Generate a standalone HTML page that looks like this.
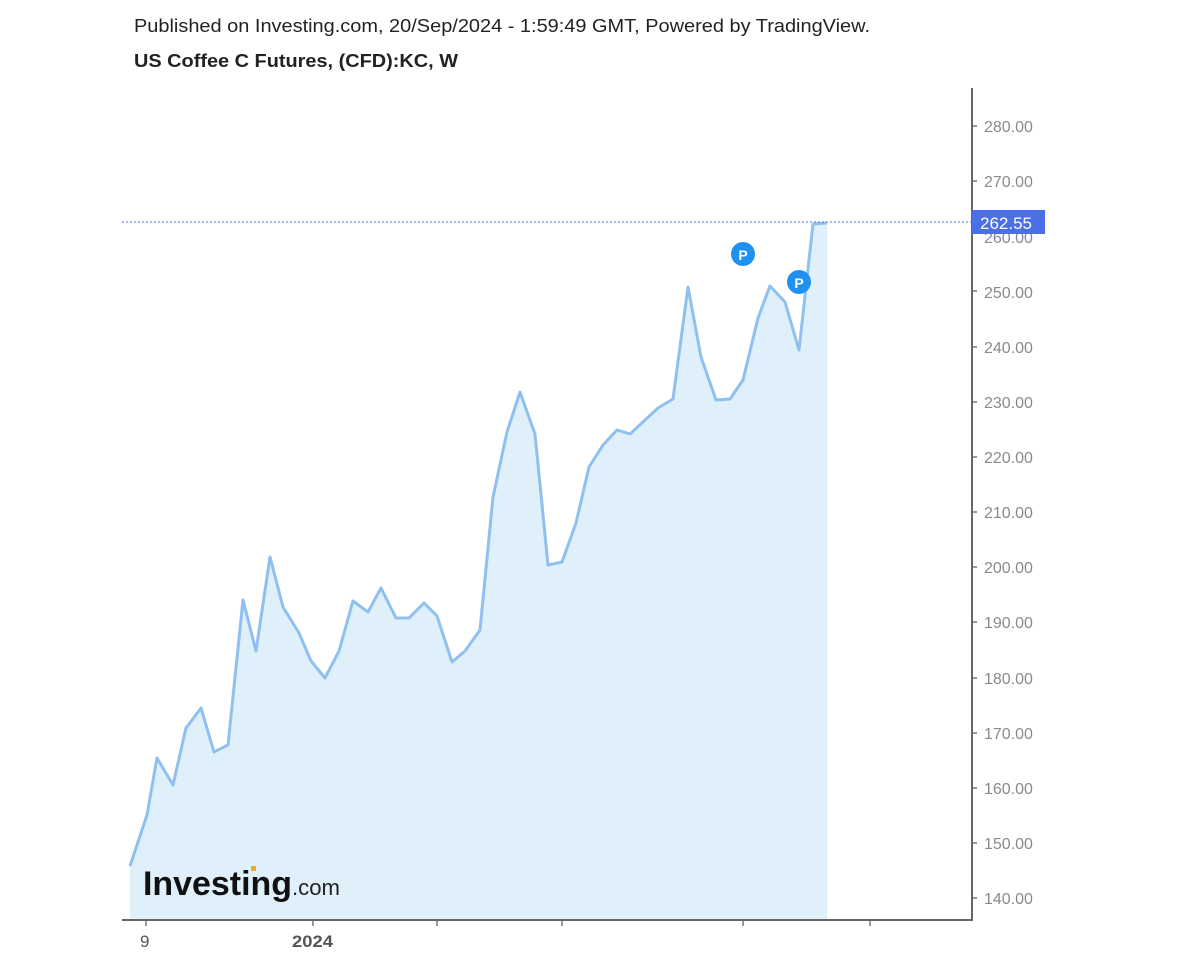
<!DOCTYPE html>
<html><head><meta charset="utf-8"><style>
body{margin:0;background:#fff;width:1200px;height:960px;overflow:hidden;font-family:"Liberation Sans",sans-serif}
</style></head><body>
<svg width="1200" height="960" xmlns="http://www.w3.org/2000/svg" font-family="Liberation Sans, sans-serif">
<text x="134" y="32" font-size="18" fill="#222" textLength="736" lengthAdjust="spacingAndGlyphs">Published on Investing.com, 20/Sep/2024 - 1:59:49 GMT, Powered by TradingView.</text>
<text x="134" y="67" font-size="18" font-weight="bold" fill="#222" textLength="324" lengthAdjust="spacingAndGlyphs">US Coffee C Futures, (CFD):KC, W</text>
<polygon fill="#e0f0fa" points="130,920 130,866 147,815 157,758 173,785 186,728 201,708 214,752 228,745 243,600 256,651 270,557 283,607 299,633 311,661 325,678 339,651 353,601 368,612 381,588 396,618 409,618 424,603 437,616 452,662 465,651 480,630 493,497 507,432 520,392 535,434 548,565 562,562 576,523 589,467 603,445 617,430 630,434 644,421 658,408 673,399 688,287 701,357 716,400 730,399 743,380 758,318 770,286 785,302 799,350 813,224 827,223 827,920"/>
<polyline fill="none" stroke="#8fc0ef" stroke-width="3" stroke-linejoin="round" points="130,866 147,815 157,758 173,785 186,728 201,708 214,752 228,745 243,600 256,651 270,557 283,607 299,633 311,661 325,678 339,651 353,601 368,612 381,588 396,618 409,618 424,603 437,616 452,662 465,651 480,630 493,497 507,432 520,392 535,434 548,565 562,562 576,523 589,467 603,445 617,430 630,434 644,421 658,408 673,399 688,287 701,357 716,400 730,399 743,380 758,318 770,286 785,302 799,350 813,224 827,223"/>
<line x1="122" y1="222" x2="972" y2="222" stroke="#4a6fe8" stroke-width="1" stroke-dasharray="2,2"/>
<g fill="#8a8a8a" font-size="16">
<text x="984" y="132">280.00</text><text x="984" y="187">270.00</text><text x="984" y="243">260.00</text>
<text x="984" y="298">250.00</text><text x="984" y="353">240.00</text><text x="984" y="408">230.00</text>
<text x="984" y="463">220.00</text><text x="984" y="518">210.00</text><text x="984" y="573">200.00</text>
<text x="984" y="628">190.00</text><text x="984" y="684">180.00</text><text x="984" y="739">170.00</text>
<text x="984" y="794">160.00</text><text x="984" y="849">150.00</text><text x="984" y="904">140.00</text>
</g>
<g stroke="#777" stroke-width="1.5">
<line x1="972" y1="126" x2="977" y2="126"/><line x1="972" y1="181" x2="977" y2="181"/><line x1="972" y1="291" x2="977" y2="291"/><line x1="972" y1="347" x2="977" y2="347"/><line x1="972" y1="402" x2="977" y2="402"/><line x1="972" y1="457" x2="977" y2="457"/><line x1="972" y1="512" x2="977" y2="512"/><line x1="972" y1="567" x2="977" y2="567"/><line x1="972" y1="622" x2="977" y2="622"/><line x1="972" y1="678" x2="977" y2="678"/><line x1="972" y1="733" x2="977" y2="733"/><line x1="972" y1="788" x2="977" y2="788"/><line x1="972" y1="843" x2="977" y2="843"/><line x1="972" y1="898" x2="977" y2="898"/>
<line x1="146" y1="920" x2="146" y2="926"/><line x1="313" y1="920" x2="313" y2="926"/><line x1="437" y1="920" x2="437" y2="926"/><line x1="562" y1="920" x2="562" y2="926"/><line x1="743" y1="920" x2="743" y2="926"/><line x1="870" y1="920" x2="870" y2="926"/>
</g>
<line x1="972" y1="88" x2="972" y2="921" stroke="#666" stroke-width="2"/>
<line x1="122" y1="920" x2="973" y2="920" stroke="#666" stroke-width="2"/>
<rect x="972" y="210" width="73" height="24" fill="#4a6fe8"/>
<text x="980" y="229" font-size="17" fill="#fff">262.55</text>
<text x="140" y="947" font-size="17" fill="#555">9</text>
<text x="292" y="947" font-size="17" font-weight="bold" fill="#555" textLength="41" lengthAdjust="spacingAndGlyphs">2024</text>
<circle cx="743" cy="254" r="12" fill="#1e90f0"/><text x="743" y="260" font-size="14" font-weight="bold" fill="#fff" text-anchor="middle">P</text>
<circle cx="799" cy="282" r="12" fill="#1e90f0"/><text x="799" y="288" font-size="14" font-weight="bold" fill="#fff" text-anchor="middle">P</text>
<text x="143" y="895" font-size="34" font-weight="bold" fill="#111" textLength="149" lengthAdjust="spacingAndGlyphs">Investing</text>
<text x="292" y="895" font-size="22" fill="#222" textLength="48" lengthAdjust="spacingAndGlyphs">.com</text>
<rect x="251" y="866" width="5" height="5" fill="#f5a623"/>
</svg>
</body></html>
